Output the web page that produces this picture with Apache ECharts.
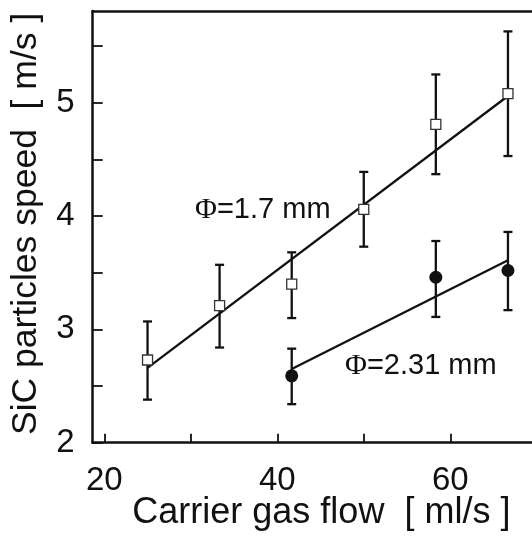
<!DOCTYPE html>
<html>
<head>
<meta charset="utf-8">
<script src="https://cdn.jsdelivr.net/npm/echarts@6/dist/echarts.min.js"></script>
<style>
  html, body { margin: 0; padding: 0; background: #fff; }
  #chart { width: 532px; height: 537px; }
</style>
</head>
<body>
<div id="chart"></div>
<script>
// values
const flowX = [25, 33.33, 41.67, 50, 58.33, 66.67]
const speedThin = [2.73, 3.21, 3.40, 4.06, 4.81, 5.08]
const thinLow = [2.38, 2.84, 3.10, 3.73, 4.37, 4.53]
const thinHigh = [3.07, 3.57, 3.68, 4.39, 5.25, 5.63]

const flowThick = [41.67, 58.33, 66.67]
const speedThick = [2.59, 3.46, 3.52]
const thickLow = [2.34, 3.11, 3.17]
const thickHigh = [2.83, 3.78, 3.86]

const fitThin = [[25, 2.66], [66.67, 5.06]]
const fitThick = [[41.67, 2.65], [66.67, 3.61]]

const xTicks = [20, 30, 40, 50, 60]
const xTickLabels = [20, 40, 60]
const yTicks = [2, 2.5, 3, 3.5, 4, 4.5, 5, 5.5]
const yTickLabels = [2, 3, 4, 5]

const ink = '#111'
const font = '"Liberation Sans", Arial, sans-serif'

const errorBars = (xs, lo, hi) => ({
  type: 'custom',
  data: xs.map((x, i) => [x, lo[i], hi[i]]),
  encode: { x: 0, y: [1, 2] },
  z: 2,
  renderItem: (params, api) => {
    const top = api.coord([api.value(0), api.value(2)])
    const bot = api.coord([api.value(0), api.value(1)])
    const w = 4.5
    const style = { stroke: ink, lineWidth: 2.3 }
    return {
      type: 'group',
      children: [
        { type: 'line', shape: { x1: top[0], y1: top[1], x2: bot[0], y2: bot[1] }, style },
        { type: 'line', shape: { x1: top[0] - w, y1: top[1], x2: top[0] + w, y2: top[1] }, style },
        { type: 'line', shape: { x1: bot[0] - w, y1: bot[1], x2: bot[0] + w, y2: bot[1] }, style }
      ]
    }
  }
})

const chart = echarts.init(document.getElementById('chart'))

chart.setOption({
  animation: false,
  backgroundColor: '#fff',
  grid: { left: 92.7, top: 11, right: 0, bottom: 94.3, outerBoundsMode: 'none' },
  xAxis: [{
    type: 'value',
    min: 18.66,
    max: 69.45,
    name: 'Carrier gas flow  [ ml/s ]',
    nameLocation: 'middle',
    nameGap: 52,
    nameMoveOverlap: false,
    nameTextStyle: { fontFamily: font, fontSize: 36, color: ink, padding: [0, 0, 0, 18] },
    axisLine: { lineStyle: { color: ink, width: 2.5 } },
    axisTick: { inside: true, length: 9, lineStyle: { color: ink, width: 1.8 }, customValues: xTicks },
    axisLabel: { customValues: xTickLabels, margin: 22, fontFamily: font, fontSize: 33, color: ink },
    splitLine: { show: false }
  }, {
    type: 'value',
    position: 'top',
    min: 18.66,
    max: 69.45,
    axisLine: { lineStyle: { color: ink, width: 2.5 } },
    axisTick: { show: false },
    axisLabel: { show: false },
    splitLine: { show: false }
  }],
  yAxis: {
    type: 'value',
    min: 2,
    max: 5.81,
    name: 'SiC particles speed  [ m/s ]',
    nameLocation: 'middle',
    nameGap: 48,
    nameMoveOverlap: false,
    nameTextStyle: { fontFamily: font, fontSize: 35.5, color: ink, padding: [0, 0, 0, 6] },
    axisLine: { show: true, lineStyle: { color: ink, width: 2.5 } },
    axisTick: { show: true, inside: true, length: 10, lineStyle: { color: ink, width: 1.8 }, customValues: yTicks },
    axisLabel: { customValues: yTickLabels, margin: 18, fontFamily: font, fontSize: 33, color: ink },
    splitLine: { show: false }
  },
  series: [
    errorBars(flowX, thinLow, thinHigh),
    errorBars(flowThick, thickLow, thickHigh),
    {
      type: 'line',
      data: fitThin,
      symbol: 'none',
      lineStyle: { color: ink, width: 2.3 },
      z: 3
    },
    {
      type: 'line',
      data: fitThick,
      symbol: 'none',
      lineStyle: { color: ink, width: 2.3 },
      z: 3
    },
    {
      type: 'scatter',
      data: flowX.map((x, i) => [x, speedThin[i]]),
      symbol: 'rect',
      symbolSize: 10,
      itemStyle: { color: '#fff', borderColor: '#333', borderWidth: 1.3, opacity: 1 },
      z: 4
    },
    {
      type: 'scatter',
      data: flowThick.map((x, i) => [x, speedThick[i]]),
      symbol: 'circle',
      symbolSize: 13,
      itemStyle: { color: ink, opacity: 1 },
      z: 4
    }
  ],
  graphic: [
    {
      type: 'text',
      left: 195,
      top: 195,
      style: {
        text: '{phi|Φ}=1.7 mm',
        font: '29px "Liberation Sans", Arial, sans-serif',
        fill: ink,
        rich: { phi: { fontFamily: '"Liberation Serif", serif', fontSize: 30, fill: ink } }
      }
    },
    {
      type: 'text',
      left: 345,
      top: 351,
      style: {
        text: '{phi|Φ}=2.31 mm',
        font: '29px "Liberation Sans", Arial, sans-serif',
        fill: ink,
        rich: { phi: { fontFamily: '"Liberation Serif", serif', fontSize: 30, fill: ink } }
      }
    }
  ]
})
</script>
</body>
</html>
